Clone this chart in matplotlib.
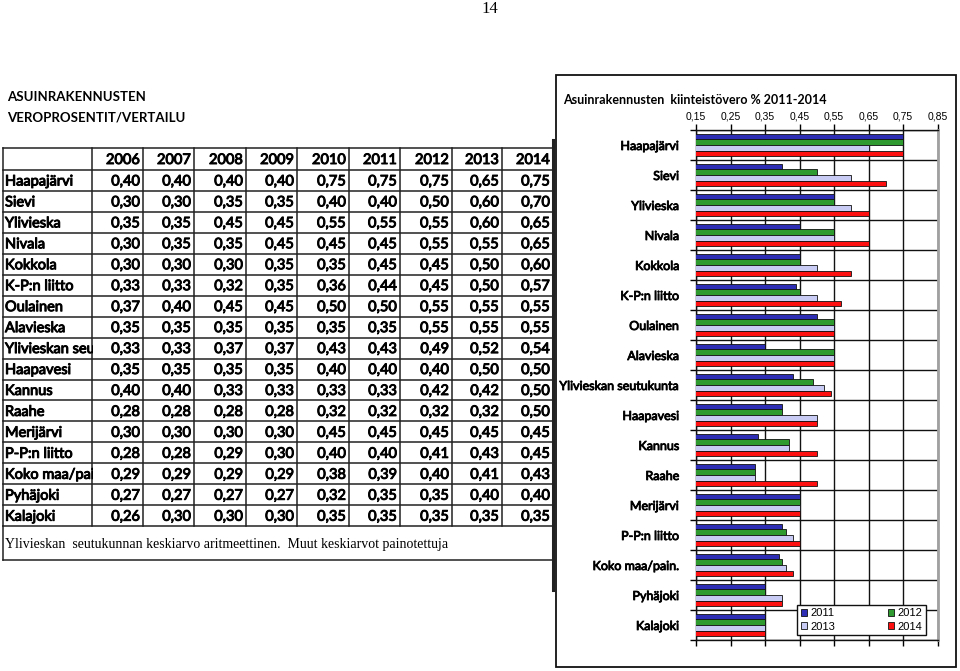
import matplotlib
matplotlib.use("Agg")
import matplotlib.pyplot as plt
import matplotlib.patheffects as pe
from matplotlib.patches import Rectangle
from matplotlib.transforms import Bbox, TransformedBbox

# ---------------- data ----------------
table_labels = ["Haapajärvi", "Sievi", "Ylivieska", "Nivala", "Kokkola", "K-P:n liitto",
                "Oulainen", "Alavieska", "Ylivieskan seu", "Haapavesi", "Kannus",
                "Raahe", "Merijärvi", "P-P:n liitto", "Koko maa/pai", "Pyhäjoki", "Kalajoki"]
chart_labels = ["Haapajärvi", "Sievi", "Ylivieska", "Nivala", "Kokkola", "K-P:n liitto",
                "Oulainen", "Alavieska", "Ylivieskan seutukunta", "Haapavesi", "Kannus",
                "Raahe", "Merijärvi", "P-P:n liitto", "Koko maa/pain.", "Pyhäjoki", "Kalajoki"]
years = ["2006", "2007", "2008", "2009", "2010", "2011", "2012", "2013", "2014"]

v2006 = [0.40, 0.30, 0.35, 0.30, 0.30, 0.33, 0.37, 0.35, 0.33, 0.35, 0.40, 0.28, 0.30, 0.28, 0.29, 0.27, 0.26]
v2007 = [0.40, 0.30, 0.35, 0.35, 0.30, 0.33, 0.40, 0.35, 0.33, 0.35, 0.40, 0.28, 0.30, 0.28, 0.29, 0.27, 0.30]
v2008 = [0.40, 0.35, 0.45, 0.35, 0.30, 0.32, 0.45, 0.35, 0.37, 0.35, 0.33, 0.28, 0.30, 0.29, 0.29, 0.27, 0.30]
v2009 = [0.40, 0.35, 0.45, 0.45, 0.35, 0.35, 0.45, 0.35, 0.37, 0.35, 0.33, 0.28, 0.30, 0.30, 0.29, 0.27, 0.30]
v2010 = [0.75, 0.40, 0.55, 0.45, 0.35, 0.36, 0.50, 0.35, 0.43, 0.40, 0.33, 0.32, 0.45, 0.40, 0.38, 0.32, 0.35]
v2011 = [0.75, 0.40, 0.55, 0.45, 0.45, 0.44, 0.50, 0.35, 0.43, 0.40, 0.33, 0.32, 0.45, 0.40, 0.39, 0.35, 0.35]
v2012 = [0.75, 0.50, 0.55, 0.55, 0.45, 0.45, 0.55, 0.55, 0.49, 0.40, 0.42, 0.32, 0.45, 0.41, 0.40, 0.35, 0.35]
v2013 = [0.65, 0.60, 0.60, 0.55, 0.50, 0.50, 0.55, 0.55, 0.52, 0.50, 0.42, 0.32, 0.45, 0.43, 0.41, 0.40, 0.35]
v2014 = [0.75, 0.70, 0.65, 0.65, 0.60, 0.57, 0.55, 0.55, 0.54, 0.50, 0.50, 0.50, 0.45, 0.45, 0.43, 0.40, 0.35]
table_columns = [v2006, v2007, v2008, v2009, v2010, v2011, v2012, v2013, v2014]

chart_series = [("2011", v2011), ("2012", v2012), ("2013", v2013), ("2014", v2014)]
x_ticks = [0.15, 0.25, 0.35, 0.45, 0.55, 0.65, 0.75, 0.85]

page_number = "14"
left_title = ["ASUINRAKENNUSTEN", "VEROPROSENTIT/VERTAILU"]
footnote = "Ylivieskan  seutukunnan keskiarvo aritmeettinen.  Muut keskiarvot painotettuja"
chart_title = "Asuinrakennusten  kiinteistövero % 2011-2014"

# ---------------- style ----------------
W, H = 960, 671
CAL = ["Lato", "DejaVu Sans"]
ARIAL = ["Liberation Sans", "DejaVu Sans"]
TIMES = ["Liberation Serif", "DejaVu Serif"]
series_colors = ["#2E2EB4", "#2F9A2F", "#C8CCF4", "#FF1010"]
HEAVY = [pe.withStroke(linewidth=0.7, foreground="black")]

fig = plt.figure(figsize=(W / 100, H / 100), dpi=100)

# page layer in pixel units
bg = fig.add_axes([0, 0, 1, 1])
bg.set_xlim(0, W)
bg.set_ylim(H, 0)
bg.axis("off")

bg.text(490, 9, page_number, ha="center", va="center", fontsize=12, family=TIMES)
bg.text(7, 97, left_title[0], ha="left", va="center", fontsize=9.5, fontweight="bold", family=CAL)
bg.text(7, 117, left_title[1], ha="left", va="center", fontsize=9.5, fontweight="bold", family=CAL)

# table geometry
col_edges = [3, 92, 143, 194, 246, 297, 349, 400, 452, 502, 553]
top_y, head_bot, row_h = 148, 170, 20.95
n_rows = len(table_labels)
bottom_y = head_bot + n_rows * row_h
foot_bot = 560
lc = "#222222"

for x in col_edges:
    bg.plot([x, x], [top_y, bottom_y], color=lc, lw=1.1)
bg.plot([3, 3], [bottom_y, foot_bot], color=lc, lw=1.1)
bg.plot([553, 553], [140, 590], color=lc, lw=2.2)
for yy in [top_y, head_bot] + [head_bot + (i + 1) * row_h for i in range(n_rows)] + [foot_bot]:
    bg.plot([col_edges[0], col_edges[-1]], [yy, yy], color=lc, lw=1.1)

tfs = 10.5
for j, yr in enumerate(years):
    bg.text(col_edges[j + 2] - 3, (top_y + head_bot) / 2 + 1, yr, ha="right", va="center",
            fontsize=tfs, family=CAL, path_effects=HEAVY)
for i, lab in enumerate(table_labels):
    yc = head_bot + (i + 0.5) * row_h + 1
    t = bg.text(col_edges[0] + 2, yc, lab, ha="left", va="center", fontsize=tfs,
                family=CAL, clip_on=True, path_effects=HEAVY)
    t.set_clip_box(TransformedBbox(Bbox([[col_edges[0], yc - 10], [col_edges[1] + 1, yc + 10]]),
                                   bg.transData))
    for j, col in enumerate(table_columns):
        bg.text(col_edges[j + 2] - 3, yc, f"{col[i]:.2f}".replace(".", ","), ha="right",
                va="center", fontsize=tfs, family=CAL, path_effects=HEAVY)
bg.text(5, (bottom_y + foot_bot) / 2 + 1, footnote, ha="left", va="center", fontsize=10, family=TIMES)

# chart frame
bg.add_patch(Rectangle((556, 75), 400, 592, facecolor="white", edgecolor="#111111", lw=1.3, zorder=3))
bg.text(563, 100, chart_title, ha="left", va="center", fontsize=9, fontweight="bold", family=CAL, zorder=4)

# ---------------- bar chart ----------------
ax_l, ax_r, ax_t, ax_b = 696, 937.5, 130, 640
ax = fig.add_axes([ax_l / W, 1 - ax_b / H, (ax_r - ax_l) / W, (ax_b - ax_t) / H])
ax.set_zorder(5)

n = len(chart_labels)
bh = 0.19
handles = []
for k, (name, vals) in enumerate(chart_series):
    offs = (k - 1.5) * bh
    b = ax.barh([i + offs for i in range(n)], vals, height=bh, color=series_colors[k],
                edgecolor="#111111", lw=0.6, label=name, zorder=3)
    handles.append(b)

ax.set_xlim(x_ticks[0], x_ticks[-1])
ax.set_ylim(n - 0.5, -0.5)
ax.xaxis.tick_top()
ax.set_xticks(x_ticks)
ax.set_xticklabels([f"{v:.2f}".replace(".", ",") for v in x_ticks], fontsize=7.5, family=ARIAL)
ax.tick_params(axis="x", which="major", direction="out", length=4, pad=2, width=1, bottom=True)
ax.set_yticks(range(n))
ax.set_yticklabels(chart_labels, fontsize=9, family=CAL)
for lbl in ax.get_yticklabels():
    lbl.set_path_effects([pe.withStroke(linewidth=0.6, foreground="black")])
ax.tick_params(axis="y", which="major", length=0, pad=12)
ax.set_yticks([i - 0.5 for i in range(n + 1)], minor=True)
ax.tick_params(axis="y", which="minor", direction="out", length=4, width=1)
ax.grid(True, axis="x", which="major", color="#111111", lw=1)
ax.grid(True, axis="y", which="minor", color="#111111", lw=1)
ax.set_axisbelow(True)
for s in ["left", "top", "bottom"]:
    ax.spines[s].set_color("#111111")
    ax.spines[s].set_linewidth(1)
ax.spines["right"].set_color("#A0A0A0")
ax.spines["right"].set_linewidth(2)

leg = ax.legend(handles=[handles[0], handles[2], handles[1], handles[3]], ncol=2,
                loc="lower left", bbox_to_anchor=(0.42, 0.01, 0.532, 0.063), mode="expand",
                prop={"family": ARIAL, "size": 8}, frameon=True, fancybox=False,
                handlelength=0.6, handleheight=0.6, handletextpad=0.3, borderpad=0.3,
                labelspacing=0.3, columnspacing=1.0, borderaxespad=0)
leg.get_frame().set_edgecolor("#111111")
leg.get_frame().set_linewidth(1)
leg.get_frame().set_alpha(1)
leg.set_zorder(10)

fig.savefig("out.png", dpi=100)
